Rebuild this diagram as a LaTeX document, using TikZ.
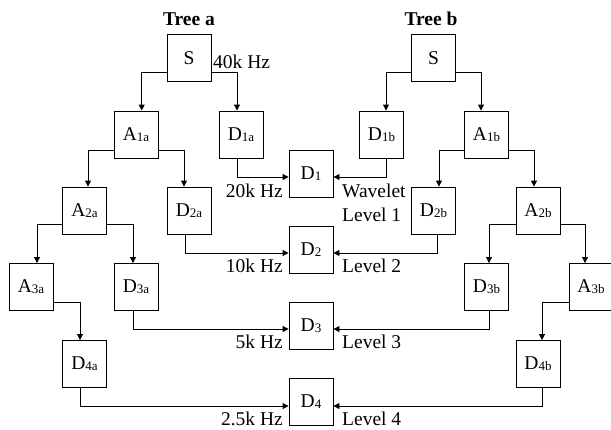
\documentclass[tikz,border=0pt]{standalone}
\usepackage{fontspec}
\setmainfont{Liberation Serif}
\usetikzlibrary{arrows.meta}
\newcommand\subx[1]{\raisebox{-1pt}{\fontsize{13}{13}\selectfont #1}}
\begin{document}
\begin{tikzpicture}[x=1pt,y=-1pt,
  font=\fontsize{19.5}{23}\selectfont,
  box/.style={draw,line width=0.9pt,minimum width=44pt,minimum height=47pt,inner sep=0pt},
  arr/.style={line width=0.9pt,-{Triangle[length=6pt,width=6pt]}},
  lbl/.style={inner sep=0pt}]
\useasboundingbox (0,0) rectangle (611,429);
% titles
\node[lbl,anchor=base,font=\fontsize{19.5}{23}\selectfont\bfseries] (ta) at (189,25) {Tree a};
\node[lbl,anchor=base,font=\fontsize{19.5}{23}\selectfont\bfseries] (tb) at (431,25) {Tree b};
% tree a
\node[box] (Sa) at (189,58) {S};
\node[box] (A1a) at (136,134.5) {A\subx{1a}};
\node[box] (D1a) at (241,134.5) {D\subx{1a}};
\node[box] (A2a) at (84.5,210.5) {A\subx{2a}};
\node[box] (D2a) at (189,210.5) {D\subx{2a}};
\node[box] (A3a) at (31,287) {A\subx{3a}};
\node[box] (D3a) at (136,287) {D\subx{3a}};
\node[box] (D4a) at (84.5,364) {D\subx{4a}};
% centre
\node[box] (D1) at (311,173.5) {D\subx{1}};
\node[box] (D2) at (311,249.5) {D\subx{2}};
\node[box] (D3) at (311,325.5) {D\subx{3}};
\node[box] (D4) at (311,401.5) {D\subx{4}};
% tree b
\node[box] (Sb) at (433.5,58) {S};
\node[box] (D1b) at (381.5,134.5) {D\subx{1b}};
\node[box] (A1b) at (486.5,134.5) {A\subx{1b}};
\node[box] (D2b) at (433.5,210.5) {D\subx{2b}};
\node[box] (A2b) at (538,210.5) {A\subx{2b}};
\node[box] (D3b) at (486.5,287) {D\subx{3b}};
\node[box] (A3b) at (591,287) {A\subx{3b}};
\node[box] (D4b) at (538,364) {D\subx{4b}};
% tree a connectors
\draw[arr] ([yshift=-14pt]Sa.west) -| ([xshift=5.7pt]A1a.north);
\draw[arr] ([yshift=-14pt]Sa.east) -| ([xshift=-4pt]D1a.north);
\draw[arr] ([yshift=-15.5pt]A1a.west) -| ([xshift=3.5pt]A2a.north);
\draw[arr] ([yshift=-15.5pt]A1a.east) -| ([xshift=-5pt]D2a.north);
\draw[arr] ([yshift=-13.5pt]A2a.west) -| ([xshift=6pt]A3a.north);
\draw[arr] ([yshift=-13.5pt]A2a.east) -| ([xshift=-3pt]D3a.north);
\draw[arr] ([yshift=-15pt]A3a.east) -| ([xshift=-4.5pt]D4a.north);
\draw[arr] ([xshift=-4pt]D1a.south) |- ([yshift=-3.5pt]D1.west);
\draw[arr] ([xshift=-4pt]D2a.south) |- ([yshift=-3.5pt]D2.west);
\draw[arr] ([xshift=-3pt]D3a.south) |- ([yshift=-3.5pt]D3.west);
\draw[arr] ([xshift=-4.5pt]D4a.south) |- ([yshift=-4.5pt]D4.west);
% tree b connectors
\draw[arr] ([yshift=-14pt]Sb.west) -| ([xshift=4.5pt]D1b.north);
\draw[arr] ([yshift=-14pt]Sb.east) -| ([xshift=-5.5pt]A1b.north);
\draw[arr] ([yshift=-15.5pt]A1b.west) -| ([xshift=5.5pt]D2b.north);
\draw[arr] ([yshift=-15.5pt]A1b.east) -| ([xshift=-4pt]A2b.north);
\draw[arr] ([yshift=-13.5pt]A2b.west) -| ([xshift=2.5pt]D3b.north);
\draw[arr] ([yshift=-13.5pt]A2b.east) -| ([xshift=-6pt]A3b.north);
\draw[arr] ([yshift=-15pt]A3b.west) -| ([xshift=4pt]D4b.north);
\draw[arr] ([xshift=4.5pt]D1b.south) |- ([yshift=-3.5pt]D1.east);
\draw[arr] ([xshift=3.5pt]D2b.south) |- ([yshift=-3.5pt]D2.east);
\draw[arr] ([xshift=2.5pt]D3b.south) |- ([yshift=-3.5pt]D3.east);
\draw[arr] ([xshift=4pt]D4b.south) |- ([yshift=-4.5pt]D4.east);
% labels
\node[lbl,anchor=base west] (f40) at (213,68) {40k Hz};
\node[lbl,anchor=base east] (f20) at (283,197) {20k Hz};
\node[lbl,anchor=base east] (f10) at (283,272) {10k Hz};
\node[lbl,anchor=base east] (f5) at (283,348) {5k Hz};
\node[lbl,anchor=base east] (f25) at (283,425) {2.5k Hz};
\node[lbl,anchor=base west] (wv) at (342,197) {Wavelet};
\node[lbl,anchor=base west] (l1) at (342,221) {Level 1};
\node[lbl,anchor=base west] (l2) at (342,272) {Level 2};
\node[lbl,anchor=base west] (l3) at (342,348) {Level 3};
\node[lbl,anchor=base west] (l4) at (342,425) {Level 4};
\end{tikzpicture}
\end{document}
